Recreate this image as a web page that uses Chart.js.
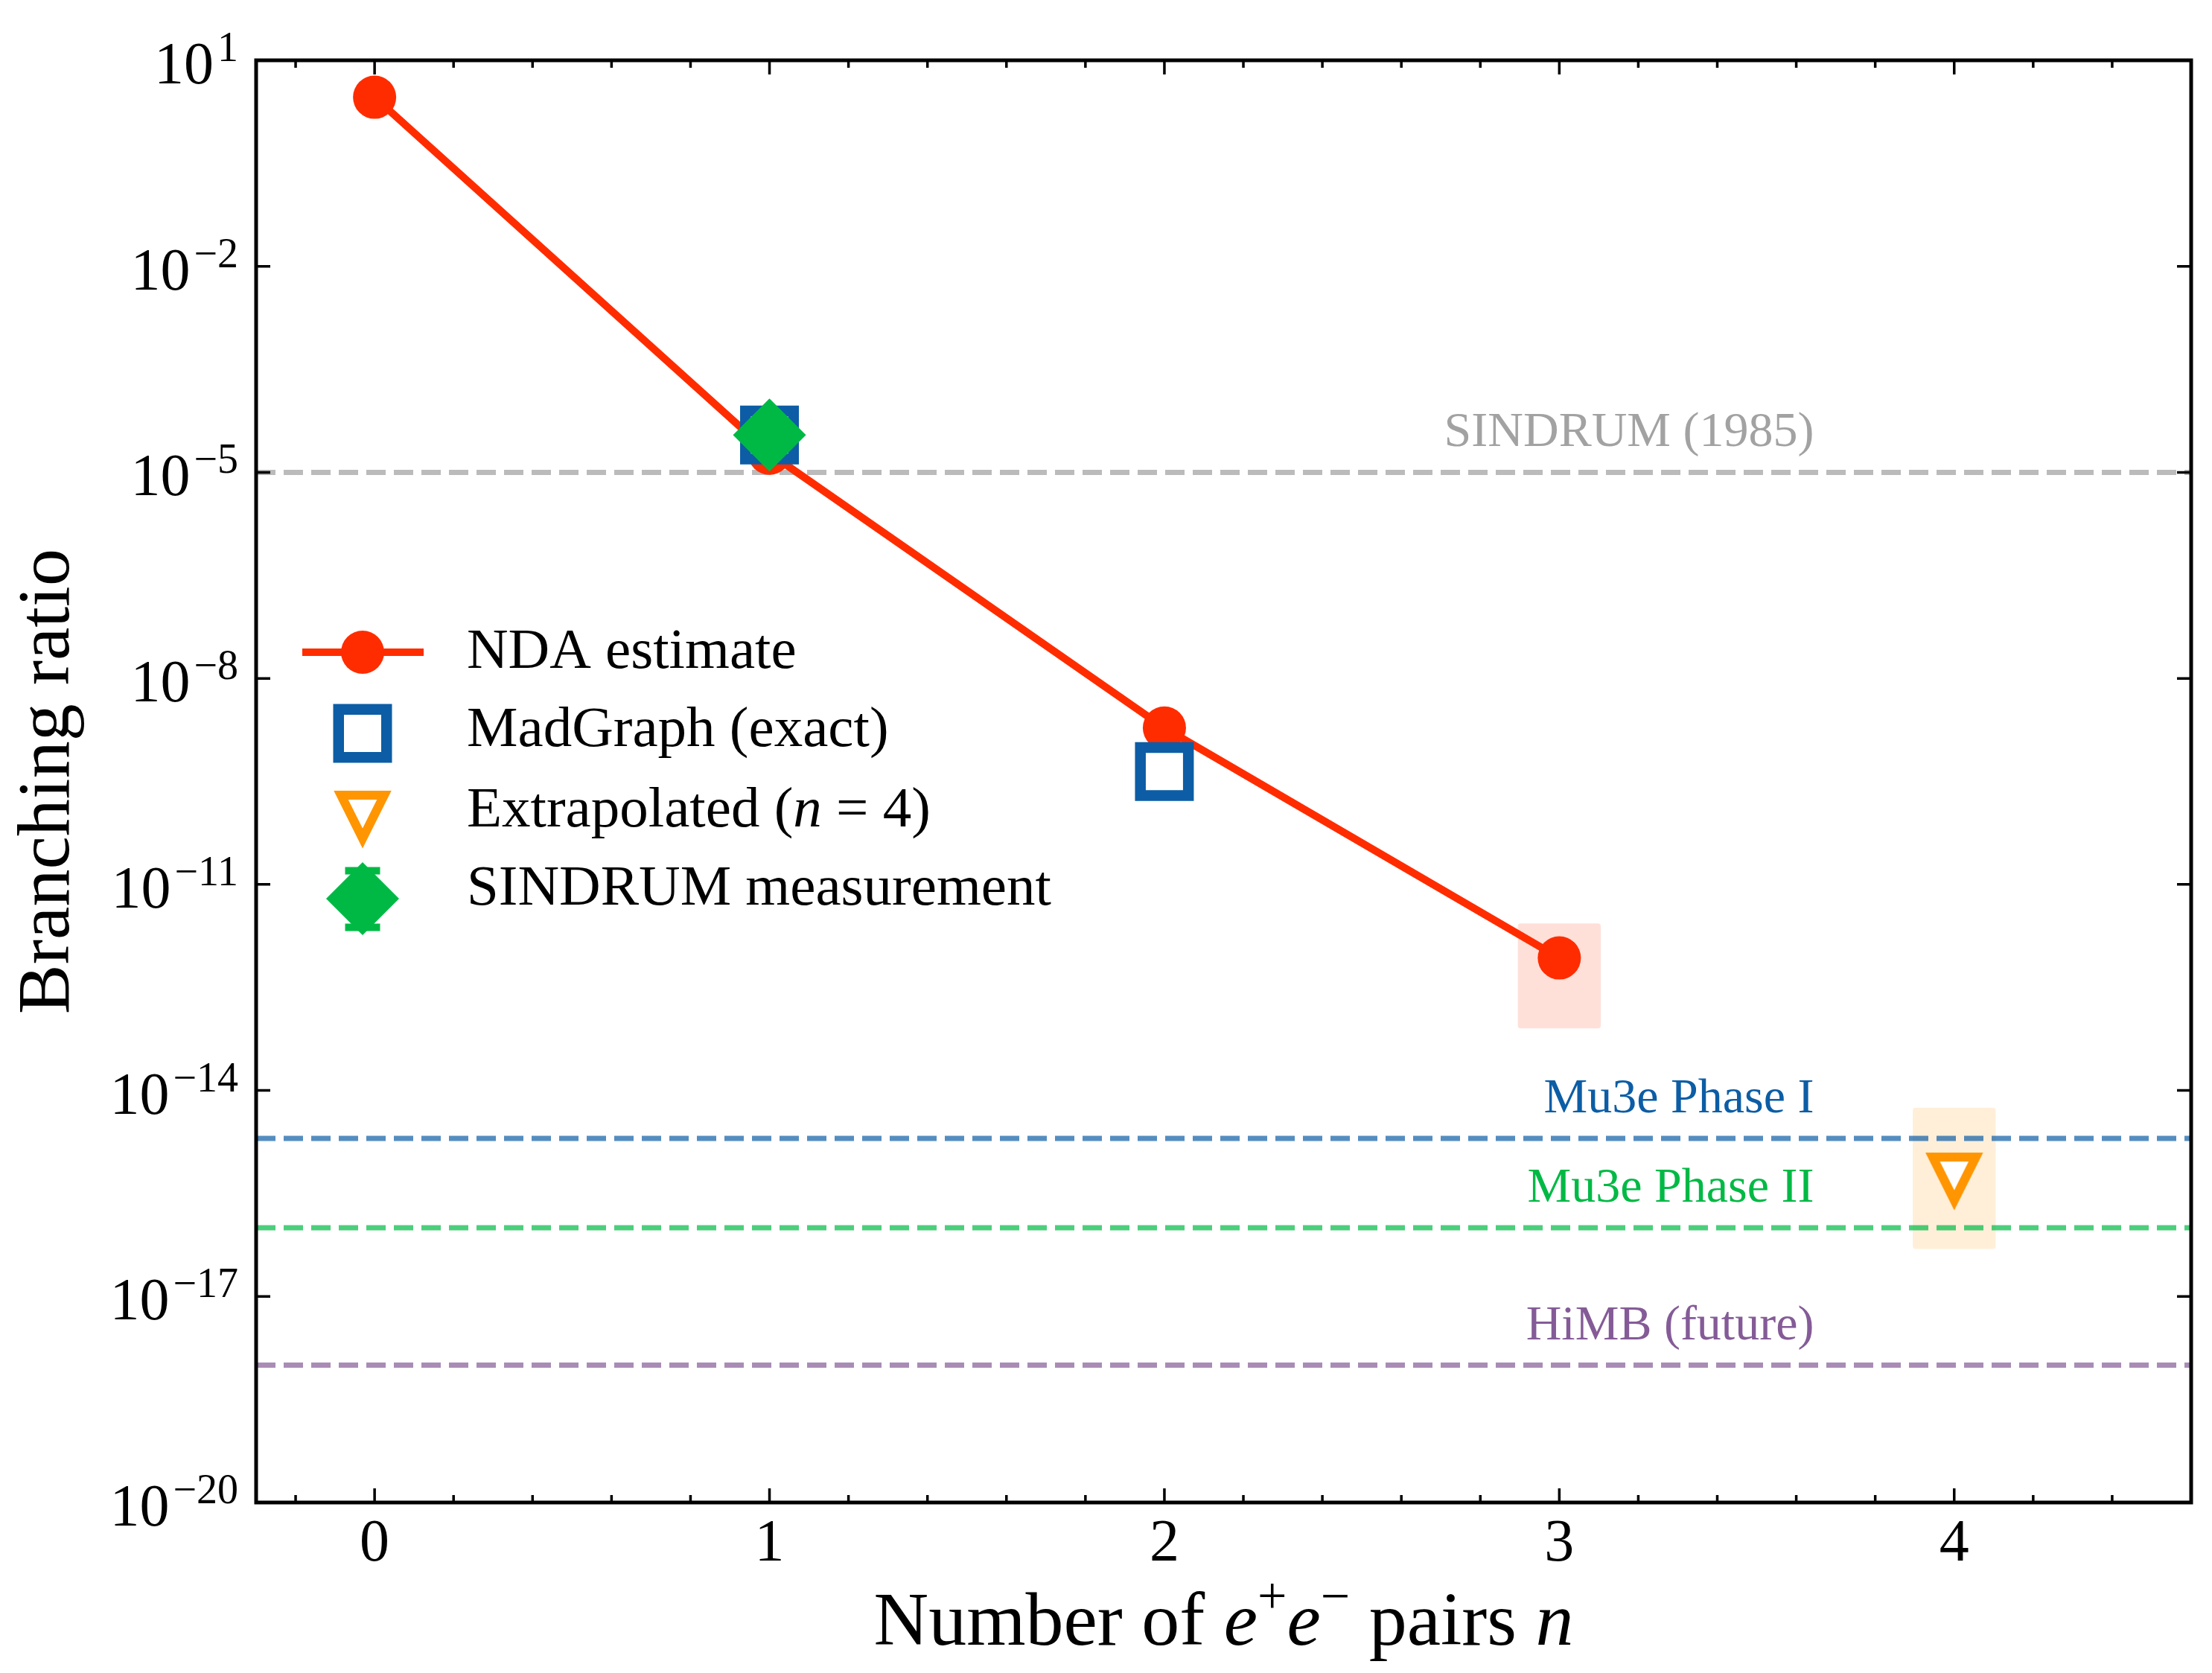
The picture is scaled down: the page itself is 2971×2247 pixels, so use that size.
<!DOCTYPE html>
<html>
<head>
<meta charset="utf-8">
<script src="https://cdn.jsdelivr.net/npm/chart.js@4.4.0/dist/chart.umd.min.js"></script>
<style>
  html, body { margin: 0; padding: 0; background: #fff; }
  canvas { display: block; }
</style>
</head>
<body>
<canvas id="brChart" width="2971" height="2247"></canvas>
<script>
// values
const ndaN = [0, 1, 2, 3];
const ndaBR = [2.9, 1.9e-5, 1.9e-9, 8.5e-13];
const madN = [1, 2];
const madBR = [3.5e-5, 4.4e-10];
const extrapN = [4];
const extrapBR = [5.2e-16];
const sindrumN = [1];
const sindrumBR = [3.5e-5];
const sindrumLo = [2.6e-5];
const sindrumHi = [4.5e-5];

// shaded uncertainty bands around n = 3 and n = 4
const bandN = [3, 4];
const bandLow = [8e-14, 4.9e-17];
const bandHigh = [2.7e-12, 5.6e-15];

// experimental limits (dashed lines)
const limitNames = ['SINDRUM (1985)', 'Mu3e Phase I', 'Mu3e Phase II', 'HiMB (future)'];
const limitBR = [1e-5, 2e-15, 1e-16, 1e-18];

const xTicks = [0, 1, 2, 3, 4];
const yExponents = [1, -2, -5, -8, -11, -14, -17, -20];

const RED = '#FF2C00', BLUE = '#0C5DA5', GREEN = '#00B945', ORANGE = '#FF9500', PURPLE = '#845B97', GRAY = '#9e9e9e';
const limitLine = ['rgba(158,158,158,0.7)', 'rgba(12,93,165,0.7)', 'rgba(0,185,69,0.7)', 'rgba(132,91,151,0.7)'];
const limitText = ['#a2a2a2', BLUE, GREEN, PURPLE];
const bandFill = ['rgba(255,44,0,0.15)', 'rgba(255,149,0,0.15)'];

const SERIF = '"Liberation Serif", "DejaVu Serif", serif';
const f = (px, style) => (style ? style + ' ' : '') + px + 'px ' + SERIF;

// open down-triangle like matplotlib's 'v'
function makeTriangle() {
    const c = document.createElement('canvas');
    c.width = 100; c.height = 100;
    const g = c.getContext('2d');
    const s = 29;
    g.beginPath();
    g.moveTo(50 - s, 50 - s);
    g.lineTo(50 + s, 50 - s);
    g.lineTo(50, 50 + s);
    g.closePath();
    g.fillStyle = '#fff';
    g.fill();
    g.lineJoin = 'miter';
    g.lineWidth = 12;
    g.strokeStyle = ORANGE;
    g.stroke();
    return c;
}
const triMarker = makeTriangle();

function drawErrorBar(ctx, x, yTop, yBot) {
    ctx.save();
    ctx.strokeStyle = GREEN;
    ctx.lineWidth = 10;
    ctx.beginPath();
    ctx.moveTo(x, yTop); ctx.lineTo(x, yBot);
    ctx.moveTo(x - 23.5, yTop); ctx.lineTo(x + 23.5, yTop);
    ctx.moveTo(x - 23.5, yBot); ctx.lineTo(x + 23.5, yBot);
    ctx.stroke();
    ctx.restore();
}

function drawRich(ctx, parts, x, y, align) {
    let w = 0;
    parts.forEach(p => { ctx.font = p.font; w += ctx.measureText(p.t).width; });
    let cx = align === 'center' ? x - w / 2 : x;
    ctx.textAlign = 'left';
    parts.forEach(p => {
        ctx.font = p.font;
        ctx.fillText(p.t, cx, y - (p.rise || 0));
        cx += ctx.measureText(p.t).width;
    });
}

const decor = {
    id: 'decor',
    beforeDraw(chart) {
        const ctx = chart.ctx;
        ctx.save();
        ctx.fillStyle = '#fff';
        ctx.fillRect(0, 0, chart.width, chart.height);
        ctx.restore();
    },
    beforeDatasetsDraw(chart) {
        const ctx = chart.ctx, ca = chart.chartArea;
        const xs = chart.scales.x, ys = chart.scales.y;
        ctx.save();
        // bands
        bandN.forEach((n, i) => {
            const x0 = xs.getPixelForValue(n - 0.105), x1 = xs.getPixelForValue(n + 0.105);
            const y0 = ys.getPixelForValue(bandHigh[i]), y1 = ys.getPixelForValue(bandLow[i]);
            ctx.fillStyle = bandFill[i];
            ctx.beginPath();
            ctx.roundRect(x0, y0, x1 - x0, y1 - y0, 4);
            ctx.fill();
        });
        // limit lines
        ctx.lineWidth = 7;
        ctx.setLineDash([26, 11]);
        limitBR.forEach((v, i) => {
            const y = ys.getPixelForValue(v);
            ctx.strokeStyle = limitLine[i];
            ctx.beginPath();
            ctx.moveTo(ca.left, y); ctx.lineTo(ca.right, y);
            ctx.stroke();
        });
        ctx.setLineDash([]);
        // limit labels
        ctx.font = f(66);
        ctx.textAlign = 'right';
        ctx.textBaseline = 'alphabetic';
        limitBR.forEach((v, i) => {
            ctx.fillStyle = limitText[i];
            ctx.fillText(limitNames[i], xs.getPixelForValue(3.645), ys.getPixelForValue(v) - 35);
        });
        ctx.restore();
    },
    beforeDatasetDraw(chart, args) {
        if (args.index !== 3) return;
        const xs = chart.scales.x, ys = chart.scales.y;
        sindrumN.forEach((n, i) => {
            drawErrorBar(chart.ctx, xs.getPixelForValue(n), ys.getPixelForValue(sindrumHi[i]), ys.getPixelForValue(sindrumLo[i]));
        });
    },
    afterDraw(chart) {
        const ctx = chart.ctx, ca = chart.chartArea;
        const xs = chart.scales.x, ys = chart.scales.y;
        ctx.save();
        ctx.fillStyle = '#000';
        ctx.strokeStyle = '#000';

        // ticks, pointing inward
        ctx.lineWidth = 3.5;
        ctx.beginPath();
        for (let k = -1; k <= 23; k++) {
            const v = k / 5;
            const x = xs.getPixelForValue(v);
            const len = k % 5 === 0 ? 19 : 10;
            ctx.moveTo(x, ca.bottom); ctx.lineTo(x, ca.bottom - len);
            ctx.moveTo(x, ca.top); ctx.lineTo(x, ca.top + len);
        }
        yExponents.forEach(e => {
            const y = ys.getPixelForValue(Math.pow(10, e));
            ctx.moveTo(ca.left, y); ctx.lineTo(ca.left + 19, y);
            ctx.moveTo(ca.right, y); ctx.lineTo(ca.right - 19, y);
        });
        ctx.stroke();

        // frame
        ctx.lineWidth = 5;
        ctx.strokeRect(ca.left, ca.top, ca.right - ca.left, ca.bottom - ca.top);

        // x tick labels
        ctx.font = f(80);
        ctx.textAlign = 'center';
        ctx.textBaseline = 'alphabetic';
        xTicks.forEach(v => ctx.fillText(String(v), xs.getPixelForValue(v), ca.bottom + 78));

        // y tick labels 10^e
        yExponents.forEach(e => {
            const y = ys.getPixelForValue(Math.pow(10, e));
            const sup = e < 0 ? '\u2212' + (-e) : String(e);
            const right = ca.left - 24;
            ctx.textAlign = 'left';
            ctx.font = f(56);
            const sw = ctx.measureText(sup).width;
            ctx.fillText(sup, right - sw, y + 1);
            ctx.font = f(80);
            const mw = ctx.measureText('10').width;
            ctx.fillText('10', right - sw - 5 - mw, y + 31);
        });

        // axis titles
        drawRich(ctx, [
            { t: 'Number of ', font: f(102) },
            { t: 'e', font: f(102, 'italic') },
            { t: '+', font: f(70), rise: 42 },
            { t: 'e', font: f(102, 'italic') },
            { t: '\u2212', font: f(70), rise: 42 },
            { t: ' pairs ', font: f(102) },
            { t: 'n', font: f(102, 'italic') }
        ], (ca.left + ca.right) / 2, ca.bottom + 191, 'center');

        ctx.save();
        ctx.translate(92, (ca.top + ca.bottom) / 2);
        ctx.rotate(-Math.PI / 2);
        ctx.font = f(100);
        ctx.textAlign = 'center';
        ctx.fillText('Branching ratio', 0, 0);
        ctx.restore();

        // legend
        const mx = 487, tx = 627;
        const rowBase = [897, 1002, 1110, 1215];
        const rowMark = [876, 985, 1097, 1207];
        ctx.lineWidth = 10;
        ctx.strokeStyle = RED;
        ctx.beginPath();
        ctx.moveTo(mx - 81, rowMark[0]); ctx.lineTo(mx + 82, rowMark[0]);
        ctx.stroke();
        ctx.fillStyle = RED;
        ctx.beginPath();
        ctx.arc(mx, rowMark[0], 29, 0, Math.PI * 2);
        ctx.fill();

        ctx.fillStyle = '#fff';
        ctx.fillRect(mx - 32.25, rowMark[1] - 32.25, 64.5, 64.5);
        ctx.strokeStyle = BLUE;
        ctx.lineWidth = 14.5;
        ctx.strokeRect(mx - 32.25, rowMark[1] - 32.25, 64.5, 64.5);

        ctx.drawImage(triMarker, mx - 50, rowMark[2] - 50);

        drawErrorBar(ctx, mx, rowMark[3] - 37.5, rowMark[3] + 38.5);
        ctx.fillStyle = GREEN;
        ctx.beginPath();
        ctx.moveTo(mx, rowMark[3] - 49); ctx.lineTo(mx + 49, rowMark[3]);
        ctx.lineTo(mx, rowMark[3] + 49); ctx.lineTo(mx - 49, rowMark[3]);
        ctx.closePath();
        ctx.fill();

        ctx.fillStyle = '#000';
        ctx.textBaseline = 'alphabetic';
        ctx.textAlign = 'left';
        ctx.font = f(77);
        ctx.fillText('NDA estimate', tx, rowBase[0]);
        ctx.fillText('MadGraph (exact)', tx, rowBase[1]);
        drawRich(ctx, [
            { t: 'Extrapolated (', font: f(77) },
            { t: 'n', font: f(77, 'italic') },
            { t: ' = 4)', font: f(77) }
        ], tx, rowBase[2], 'left');
        ctx.font = f(77);
        ctx.fillText('SINDRUM measurement', tx, rowBase[3]);
        ctx.restore();
    }
};

const pts = (xs, ys) => xs.map((x, i) => ({ x: x, y: ys[i] }));

new Chart(document.getElementById('brChart'), {
    type: 'scatter',
    data: {
        datasets: [
            {
                label: 'NDA estimate',
                data: pts(ndaN, ndaBR),
                showLine: true,
                borderColor: RED,
                borderWidth: 10,
                pointStyle: 'circle',
                pointRadius: 29,
                pointBackgroundColor: RED,
                pointBorderWidth: 0,
                order: 4
            },
            {
                label: 'MadGraph (exact)',
                data: pts(madN, madBR),
                pointStyle: 'rect',
                pointRadius: 45.6,
                pointBackgroundColor: '#fff',
                pointBorderColor: BLUE,
                pointBorderWidth: 14.5,
                order: 3
            },
            {
                label: 'Extrapolated (n = 4)',
                data: pts(extrapN, extrapBR),
                pointStyle: triMarker,
                pointRadius: 40,
                order: 2
            },
            {
                label: 'SINDRUM measurement',
                data: pts(sindrumN, sindrumBR),
                pointStyle: 'rectRot',
                pointRadius: 49,
                pointBackgroundColor: GREEN,
                pointBorderWidth: 0,
                order: 1
            }
        ]
    },
    options: {
        responsive: false,
        animation: false,
        devicePixelRatio: 1,
        layout: { autoPadding: false, padding: { left: 344, top: 81, right: 28, bottom: 229 } },
        plugins: { legend: { display: false }, tooltip: { enabled: false } },
        scales: {
            x: {
                type: 'linear', min: -0.3, max: 4.6,
                ticks: { display: false },
                grid: { display: false, drawTicks: false },
                border: { display: false },
                afterFit: s => { s.height = 0; }
            },
            y: {
                type: 'logarithmic', min: 1e-20, max: 10,
                ticks: { display: false },
                grid: { display: false, drawTicks: false },
                border: { display: false },
                afterFit: s => { s.width = 0; }
            }
        }
    },
    plugins: [decor]
});
</script>
</body>
</html>
